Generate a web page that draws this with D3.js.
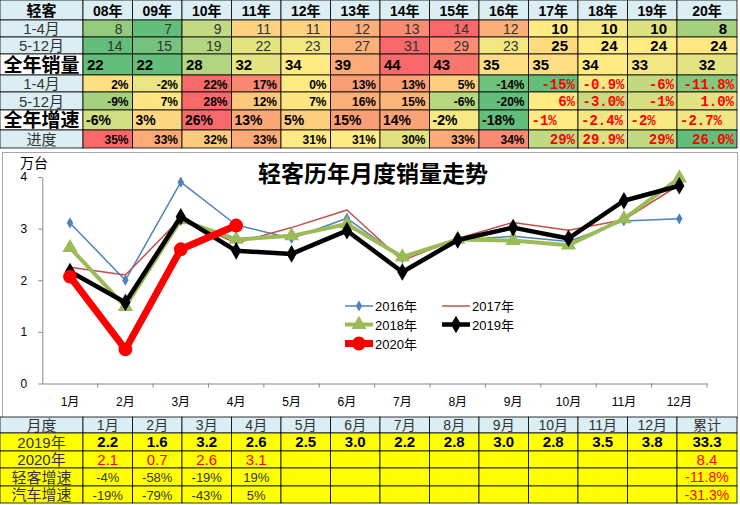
<!DOCTYPE html>
<html>
<head>
<meta charset="utf-8">
<script src="https://cdn.jsdelivr.net/npm/d3@7"></script>
<style>
  body { margin: 0; background: #fff; }
  svg { display: block; }
</style>
</head>
<body>
<script>
const W = 740, H = 505;

// top table (light coach, 10k units / growth)
const years = ['08年', '09年', '10年', '11年', '12年', '13年', '14年', '15年', '16年', '17年', '18年', '19年', '20年'];
const sales14 = [8, 7, 9, 11, 11, 12, 13, 14, 12, 10.27, 10.08, 9.54, 8.39];
const sales512 = [14, 15, 19, 22, 23, 27, 31, 29, 23, 24.69, 23.81, 23.76, 24];
const salesYear = [22, 22, 28, 32, 34, 39, 44, 43, 35, 35, 34, 33, 32];
const growth14 = ['2%', '-2%', '22%', '17%', '0%', '13%', '13%', '5%', '-14%', '-15%', '-0.9%', '-6%', '-11.8%'];
const growth512 = ['-9%', '7%', '28%', '12%', '7%', '16%', '15%', '-6%', '-20%', '6%', '-3.0%', '-1%', '1.0%'];
const growthYear = ['-6%', '3%', '26%', '13%', '5%', '15%', '14%', '-2%', '-18%', '-1%', '-2.4%', '-2%', '-2.7%'];
const progress = ['35%', '33%', '32%', '33%', '31%', '31%', '30%', '33%', '34%', '29%', '29.9%', '29%', '26.0%'];

// monthly chart
const months = ['1月', '2月', '3月', '4月', '5月', '6月', '7月', '8月', '9月', '10月', '11月', '12月'];
const s2016 = [3.11, 2.0, 3.9, 3.07, 2.81, 3.2, 2.43, 2.78, 2.85, 2.75, 3.15, 3.19];
const s2017 = [2.25, 2.1, 3.2, 2.72, 3.02, 3.36, 2.38, 2.81, 3.12, 2.97, 3.17, 3.85];
const s2018 = [2.63, 1.49, 3.17, 2.79, 2.86, 3.09, 2.45, 2.79, 2.77, 2.68, 3.19, 3.98];
const s2019 = [2.17, 1.57, 3.23, 2.57, 2.51, 2.96, 2.16, 2.78, 3.02, 2.81, 3.54, 3.83];
const s2020 = [2.07, 0.66, 2.6, 3.06];

// bottom table
const ytd = ['33.3', '8.4'];
const lcvGrowth = ['-4%', '-58%', '-19%', '19%'];
const autoGrowth = ['-19%', '-79%', '-43%', '5%'];
const growthYtd = ['-11.8%', '-31.3%'];

const cjk = '"Liberation Sans", "Noto Sans CJK SC", sans-serif';
const mono = '"Liberation Mono", "DejaVu Sans Mono", monospace';
const lightBlue = '#DAEEF3';

const svg = d3.select('body').append('svg')
  .attr('width', W).attr('height', H)
  .style('font-family', cjk);

// shared column grid for both tables
const colEdges = d3.range(14).map(i => i < 13 ? 83 + i * 49.5 : 737);

// ---------- top table ----------
const topRowY = [0, 20, 37, 54, 75, 92, 110, 130, 148];
const topRows = [
  {label: '1-4月', kind: 'count', values: sales14},
  {label: '5-12月', kind: 'count', values: sales512},
  {label: '全年销量', kind: 'total', values: salesYear},
  {label: '1-4月', kind: 'pct', values: growth14},
  {label: '5-12月', kind: 'pct', values: growth512},
  {label: '全年增速', kind: 'totalPct', values: growthYear},
  {label: '进度', kind: 'pct', values: progress}
];

const topTable = svg.append('g');

// header row
topTable.append('rect').attr('x', 0).attr('y', 0).attr('width', 83).attr('height', 20)
  .attr('fill', lightBlue).attr('stroke', '#000').attr('stroke-width', 0.8);
topTable.append('text').attr('x', 41.5).attr('y', 16).attr('text-anchor', 'middle')
  .style('font-size', '15px').style('font-weight', 'bold').text('轻客');
years.forEach((yr, i) => {
  topTable.append('rect').attr('x', colEdges[i]).attr('y', 0)
    .attr('width', colEdges[i + 1] - colEdges[i]).attr('height', 20)
    .attr('fill', lightBlue).attr('stroke', '#000').attr('stroke-width', 0.8);
  topTable.append('text').attr('x', (colEdges[i] + colEdges[i + 1]) / 2).attr('y', 15.5)
    .attr('text-anchor', 'middle').style('font-size', '14px').style('font-weight', 'bold')
    .text(yr);
});

topRows.forEach((row, r) => {
  const y0 = topRowY[r + 1], y1 = topRowY[r + 2], cy = (y0 + y1) / 2;
  const nums = row.values.map(v => typeof v === 'string' ? parseFloat(v) : v);
  const sorted = nums.slice().sort(d3.ascending);
  // excel-like 3 colour scale per row: min green, median yellow, max red
  const color = d3.scaleLinear()
    .domain([d3.min(nums), d3.quantile(sorted, 0.5), d3.max(nums)])
    .range(['#63BE7B', '#FFEB84', '#F8696B']);
  const big = row.kind === 'total' || row.kind === 'totalPct';

  topTable.append('rect').attr('x', 0).attr('y', y0).attr('width', 83).attr('height', y1 - y0)
    .attr('fill', big ? '#fff' : lightBlue).attr('stroke', '#000').attr('stroke-width', 0.8);
  topTable.append('text').attr('x', 41.5).attr('y', cy + (big ? 7 : 5.5)).attr('text-anchor', 'middle')
    .style('font-size', big ? '19px' : '15px').style('font-weight', big ? 'bold' : 'normal')
    .style('fill', big ? '#000' : '#333')
    .text(row.label);

  row.values.forEach((v, i) => {
    const x0 = colEdges[i], x1 = colEdges[i + 1];
    topTable.append('rect').attr('x', x0).attr('y', y0).attr('width', x1 - x0).attr('height', y1 - y0)
      .attr('fill', color(nums[i])).attr('stroke', '#000').attr('stroke-width', 0.8);
    const recent = i >= 9;
    const t = topTable.append('text').attr('y', cy + 5);
    if (row.kind === 'count') {
      t.attr('x', x1 - 10).attr('text-anchor', 'end')
        .style('font-size', recent ? '15px' : '14px')
        .style('font-weight', recent ? 'bold' : 'normal')
        .style('fill', recent ? '#000' : '#333')
        .text(Math.round(v));
    } else if (row.kind === 'total') {
      const last = i === 12;
      t.attr('x', last ? (x0 + x1) / 2 : x0 + 4).attr('text-anchor', last ? 'middle' : 'start')
        .attr('y', cy + 5.5)
        .style('font-size', '15px').style('font-weight', 'bold')
        .text(v);
    } else if (row.kind === 'pct') {
      t.attr('x', x1 - (recent ? 3 : 4)).attr('text-anchor', 'end')
        .style('font-family', recent ? mono : cjk)
        .style('font-size', recent ? '14px' : '12px').style('font-weight', 'bold')
        .style('fill', recent ? '#FF0000' : '#000')
        .text(v);
    } else {
      t.attr('x', x0 + 3).attr('text-anchor', 'start')
        .style('font-family', recent ? mono : cjk)
        .style('font-size', '14px').style('font-weight', 'bold')
        .style('fill', recent ? '#FF0000' : '#000')
        .text(v);
    }
  });
});

// ---------- chart ----------
svg.append('rect').attr('x', 2.5).attr('y', 152.5).attr('width', 735).attr('height', 266)
  .attr('fill', '#fff').attr('stroke', '#A6A6A6');

const x = d3.scaleBand().domain(months).range([42.3, 707]).padding(0);
const y = d3.scaleLinear().domain([0, 4]).range([383.5, 177]);
const cx = i => x(months[i]) + x.bandwidth() / 2;

const chart = svg.append('g');

const yAxis = chart.append('g').attr('transform', 'translate(42.3,0)')
  .call(d3.axisLeft(y).ticks(4).tickFormat(d3.format('d')).tickSize(4).tickSizeOuter(0).tickPadding(11));
yAxis.select('.domain').attr('stroke', '#868686');
yAxis.selectAll('.tick line').attr('stroke', '#868686');
yAxis.selectAll('.tick text').style('font-size', '12px').style('font-family', cjk).attr('fill', '#000');

const xAxis = chart.append('g').attr('transform', `translate(0,${y(0)})`)
  .call(d3.axisBottom(x).tickSize(0).tickSizeOuter(0).tickPadding(14));
xAxis.select('.domain').attr('stroke', '#868686');
xAxis.selectAll('.tick text').style('font-size', '12px').style('font-family', cjk).attr('fill', '#000');
// tick marks sit on the category boundaries
xAxis.selectAll('line.bound')
  .data(months.slice(1).map(m => x(m)).concat([x.range()[1]]))
  .enter().append('line').attr('class', 'bound')
  .attr('x1', d => d).attr('x2', d => d).attr('y1', 0).attr('y2', 4)
  .attr('stroke', '#868686');

chart.append('text').attr('x', 20).attr('y', 168)
  .style('font-size', '14px').style('font-family', cjk).text('万台');
chart.append('text').attr('x', 373).attr('y', 182).attr('text-anchor', 'middle')
  .style('font-size', '23px').style('font-weight', 'bold').style('font-family', cjk)
  .text('轻客历年月度销量走势');

const series = [
  {name: '2016年', values: s2016, color: '#4F81BD', width: 1.5, marker: d3.symbolDiamond, size: 36, lx: 345, ly: 306},
  {name: '2017年', values: s2017, color: '#C0504D', width: 1.5, marker: null, size: 0, lx: 442, ly: 306},
  {name: '2018年', values: s2018, color: '#9BBB59', width: 4, marker: d3.symbolTriangle, size: 100, lx: 345, ly: 324.5},
  {name: '2019年', values: s2019, color: '#000000', width: 4.5, marker: d3.symbolDiamond, size: 90, lx: 442, ly: 324.5},
  {name: '2020年', values: s2020, color: '#FF0000', width: 7, marker: d3.symbolCircle, size: 150, lx: 345, ly: 343.5}
];

const line = d3.line().x((d, i) => cx(i)).y(d => y(d));

series.forEach(s => {
  const g = chart.append('g');
  g.append('path').datum(s.values).attr('d', line)
    .attr('fill', 'none').attr('stroke', s.color).attr('stroke-width', s.width)
    .attr('stroke-linejoin', 'round').attr('stroke-linecap', 'round');
  if (s.marker) {
    g.selectAll('path.m').data(s.values).enter().append('path').attr('class', 'm')
      .attr('d', d3.symbol(s.marker, s.size))
      .attr('transform', (d, i) => `translate(${cx(i)},${y(d)})`)
      .attr('fill', s.color);
  }
  // legend entry
  const lg = chart.append('g').attr('transform', `translate(${s.lx},${s.ly})`);
  lg.append('line').attr('x1', 0).attr('x2', 28).attr('stroke', s.color).attr('stroke-width', s.width);
  if (s.marker) {
    lg.append('path').attr('d', d3.symbol(s.marker, s.size)).attr('transform', 'translate(14,0)').attr('fill', s.color);
  }
  lg.append('text').attr('x', 30).attr('y', 5).style('font-size', '13px').style('font-family', cjk).text(s.name);
});

// ---------- bottom table ----------
const botRowY = [417, 433, 451, 468, 486, 503];
const fmt1 = d3.format('.1f');
const blanks = d3.range(8).map(() => '');
const botRows = [
  {label: '月度', cells: months.concat(['累计']), fill: lightBlue},
  {label: '2019年', cells: s2019.map(fmt1).concat([ytd[0]]), fill: '#FFFF00'},
  {label: '2020年', cells: s2020.map(fmt1).concat(blanks, [ytd[1]]), fill: '#FFFF00'},
  {label: '轻客增速', cells: lcvGrowth.concat(blanks, [growthYtd[0]]), fill: '#FFFF00'},
  {label: '汽车增速', cells: autoGrowth.concat(blanks, [growthYtd[1]]), fill: '#FFFF00'}
];

const botTable = svg.append('g');
botRows.forEach((row, r) => {
  const y0 = botRowY[r], y1 = botRowY[r + 1], cy = (y0 + y1) / 2;
  botTable.append('rect').attr('x', 0).attr('y', y0).attr('width', 83).attr('height', y1 - y0)
    .attr('fill', row.fill).attr('stroke', '#000').attr('stroke-width', 0.8);
  botTable.append('text').attr('x', 41.5).attr('y', cy + 5.5).attr('text-anchor', 'middle')
    .style('font-size', '15px').style('fill', '#333').text(row.label);
  row.cells.forEach((c, i) => {
    const x0 = colEdges[i], x1 = colEdges[i + 1];
    botTable.append('rect').attr('x', x0).attr('y', y0).attr('width', x1 - x0).attr('height', y1 - y0)
      .attr('fill', row.fill).attr('stroke', '#000').attr('stroke-width', 0.8);
    const t = botTable.append('text').attr('x', (x0 + x1) / 2).attr('y', cy + 5).attr('text-anchor', 'middle').text(c);
    const last = i === 12;
    if (r === 0) {
      t.style('font-size', '14px').style('fill', '#333');
    } else if (r === 1) {
      t.style('font-size', '15px').style('font-weight', 'bold').style('fill', '#000');
    } else if (r === 2) {
      t.style('font-size', '15px').style('fill', '#FF0000');
    } else {
      t.style('font-size', last ? '14px' : '13px').style('fill', last ? '#FF0000' : '#333');
    }
  });
});
</script>
</body>
</html>
